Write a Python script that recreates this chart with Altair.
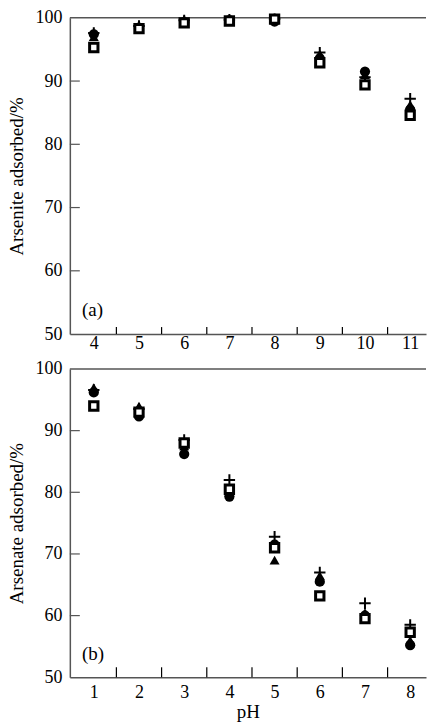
import altair as alt
import pandas as pd

# ---- data ----
ph_a = [4, 5, 6, 7, 8, 9, 10, 11]
a_circle = [97.4, 98.4, 99.3, 99.6, 99.4, 93.6, 91.5, 85.5]
a_triangle = [97.0, 98.9, 99.8, 99.8, 99.9, 94.3, 91.0, 86.3]
a_plus = [97.6, 98.7, 99.6, 99.7, 99.8, 94.5, 90.6, 87.2]
a_square = [95.3, 98.3, 99.2, 99.5, 99.8, 92.9, 89.4, 84.6]

ph_b = [1, 2, 3, 4, 5, 6, 7, 8]
b_circle = [96.2, 92.3, 86.2, 79.3, 71.5, 65.5, 60.0, 55.2]
b_triangle = [97.0, 94.0, 87.5, 80.0, 69.0, 66.5, 60.5, 56.0]
b_plus = [96.6, 93.5, 88.5, 82.0, 72.8, 67.0, 62.0, 58.5]
b_square = [94.0, 93.0, 88.0, 80.5, 71.0, 63.2, 59.5, 57.3]

y_ticks = [60, 70, 80, 90]
x_ticks_a = [4.5, 5.5, 6.5, 7.5, 8.5, 9.5, 10.5]
x_ticks_b = [1.5, 2.5, 3.5, 4.5, 5.5, 6.5, 7.5]

FONT = "Liberation Serif"
AX = "#555555"


def panel(ph, circ, tri, plus, sq, xticks, xdom, ytitle, xtitle, label, height,
          label_pad, tick_len):
    width = 357
    df = pd.DataFrame({"ph": ph, "circle": circ, "triangle": tri, "plus": plus, "square": sq})
    xs = alt.Scale(domain=xdom, nice=False, zero=False)
    ys = alt.Scale(domain=[50, 100], nice=False, zero=False)
    xaxis_kw = dict(values=ph, ticks=False, grid=False, labelPadding=label_pad,
                    domainColor=AX, domainWidth=1.5, format="d", labelFlush=False,
                    titlePadding=1, title=xtitle)
    xaxis = alt.Axis(**xaxis_kw)
    yaxis = alt.Axis(values=[50, 60, 70, 80, 90, 100], ticks=False, grid=False,
                     labelPadding=8, domainColor=AX, domainWidth=1.5, title=ytitle,
                     titlePadding=8, labelFlush=False)
    X = alt.X("ph:Q", scale=xs, axis=xaxis)
    base = alt.Chart(df)

    def pts(field, **kw):
        return base.mark_point(opacity=1, **kw).encode(
            x=X, y=alt.Y(f"{field}:Q", scale=ys, axis=yaxis))

    circles = pts("circle", shape="circle", filled=True, color="black", size=105)
    tris = pts("triangle", shape="triangle-up", filled=True, color="black", size=100)
    pluses = pts("plus", shape="M-1,0L1,0M0,-1L0,1", filled=False, color="black",
                 size=130, strokeWidth=2)
    squares = pts("square", shape="square", filled=True, fill="white", stroke="black",
                  strokeWidth=3, size=70)

    top_line = alt.Chart(pd.DataFrame({"y": [100]})).mark_rule(
        color=AX, strokeWidth=1.5).encode(y=alt.Y("y:Q", scale=ys, axis=yaxis))
    ytk = alt.Chart(pd.DataFrame({"y": y_ticks})).mark_rule(
        color=AX, strokeWidth=1.2).encode(
        y=alt.Y("y:Q", scale=ys, axis=yaxis), x=alt.value(0), x2=alt.value(10))
    xtk = alt.Chart(pd.DataFrame({"ph": xticks})).mark_rule(
        color="black", strokeWidth=1.2).encode(
        x=X, y=alt.value(height), y2=alt.value(height - tick_len))
    txt = alt.Chart(pd.DataFrame({"t": [label]})).mark_text(
        font=FONT, fontSize=19, align="left", baseline="middle", color="black").encode(
        x=alt.datum(xdom[0] + 0.27, scale=xs), y=alt.datum(53.8, scale=ys), text="t:N")

    return alt.layer(top_line, ytk, xtk, circles, tris, pluses, squares, txt).properties(
        width=width, height=height)


top = panel(ph_a, a_circle, a_triangle, a_plus, a_square, x_ticks_a, [3.47, 11.35],
            "Arsenite adsorbed/%", None, "(a)", 317, 0, 7)
bottom = panel(ph_b, b_circle, b_triangle, b_plus, b_square, x_ticks_b, [0.47, 8.35],
               "Arsenate adsorbed/%", "pH", "(b)", 309, 6, 10)

chart = alt.vconcat(top, bottom, spacing=8).properties(
    padding={"left": 8, "top": 8, "right": 0, "bottom": 0}
).configure_view(stroke=None).configure_axis(
    labelFont=FONT, titleFont=FONT, labelFontSize=18, titleFontSize=19,
    labelColor="black", titleColor="black", titleFontWeight="normal"
)

chart.save("out.html", embed_options={"renderer": "svg", "actions": False})
